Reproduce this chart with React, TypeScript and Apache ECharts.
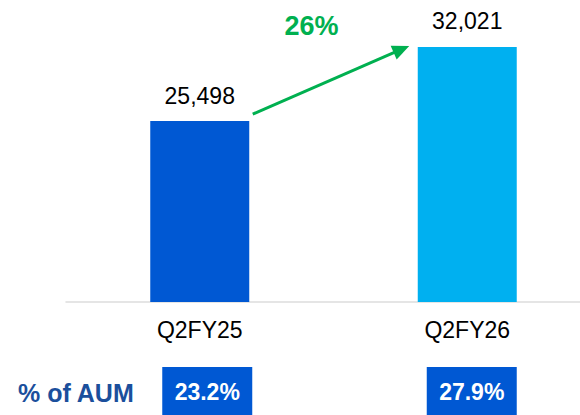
import React, { useEffect, useRef } from "react";
import * as echarts from "echarts";

const categories = ["Q2FY25", "Q2FY26"];
const values = [25498, 32021];
const barColors = ["#0058D3", "#00B0F0"];
const growthLabel = "26%";
const aumLabel = "% of AUM";
const aumPct = ["23.2%", "27.9%"];

export default function App() {
  const ref = useRef<HTMLDivElement>(null);
  useEffect(() => {
    if (!ref.current) return;
    const chart = echarts.init(ref.current, undefined, { renderer: "svg" });
    const font = "'Liberation Sans', Arial, sans-serif";
    chart.setOption({
      animation: false,
      grid: { left: 66, top: 13, width: 535, bottom: 113, outerBoundsMode: "none", containLabel: false },
      xAxis: {
        type: "category",
        data: categories,
        axisLine: { lineStyle: { color: "#DDDDDD", width: 1.5 } },
        axisTick: { length: 7, lineStyle: { color: "#DDDDDD", width: 1.5 } },
        axisLabel: { color: "#000", fontSize: 23, fontFamily: font, margin: 16 },
      },
      yAxis: { type: "value", min: 9600, max: 35000, show: false, splitLine: { show: false } },
      series: [
        {
          type: "bar",
          barWidth: 99,
          data: values.map((v, i) => ({ value: v, itemStyle: { color: barColors[i] } })),
          label: {
            show: true,
            position: "top",
            distance: 14,
            color: "#000",
            fontSize: 23,
            fontFamily: font,
            formatter: (p: any) => Number(p.value).toLocaleString("en-US"),
          },
        },
      ],
    });

    const p0 = chart.convertToPixel({ seriesIndex: 0 }, [0, values[0]]) as number[];
    const p1 = chart.convertToPixel({ seriesIndex: 0 }, [1, values[1]]) as number[];
    const start = [p0[0] + 53, p0[1] - 7];
    const tip = [p1[0] - 58, p1[1] - 1];
    const dx = tip[0] - start[0];
    const dy = tip[1] - start[1];
    const len = Math.sqrt(dx * dx + dy * dy);
    const ux = dx / len, uy = dy / len;
    const headLen = 17, headHalf = 7.5;
    const base = [tip[0] - ux * headLen, tip[1] - uy * headLen];
    const green = "#00B050";
    const elements: any[] = [
      {
        type: "line",
        shape: { x1: start[0], y1: start[1], x2: base[0] + ux * 2, y2: base[1] + uy * 2 },
        style: { stroke: green, lineWidth: 3 },
      },
      {
        type: "polygon",
        shape: {
          points: [
            tip,
            [base[0] - uy * headHalf, base[1] + ux * headHalf],
            [base[0] + uy * headHalf, base[1] - ux * headHalf],
          ],
        },
        style: { fill: green },
      },
      {
        type: "text",
        x: 311.5,
        y: 26,
        style: {
          text: growthLabel,
          fill: green,
          font: `bold 27px ${font}`,
          align: "center",
          verticalAlign: "middle",
        },
      },
      {
        type: "text",
        x: 18,
        y: 392.5,
        style: {
          text: aumLabel,
          fill: "#1B4F9C",
          font: `bold 25px ${font}`,
          align: "left",
          verticalAlign: "middle",
        },
      },
    ];
    aumPct.forEach((t, i) => {
      const px = chart.convertToPixel({ xAxisIndex: 0 }, categories[i]) as number;
      const cx = px + 7.5 - i * 3;
      elements.push({
        type: "rect",
        shape: { x: cx - 45, y: 367, width: 90, height: 50 },
        style: { fill: "#0058D3" },
      });
      elements.push({
        type: "text",
        x: cx,
        y: 392,
        style: {
          text: t,
          fill: "#FFFFFF",
          font: `bold 23px ${font}`,
          align: "center",
          verticalAlign: "middle",
        },
      });
    });
    chart.setOption({ graphic: { elements } });
    return () => chart.dispose();
  }, []);
  return (
    <div
      ref={ref}
      style={{ position: "fixed", left: 0, top: 0, width: 580, height: 415, background: "#fff" }}
    />
  );
}
